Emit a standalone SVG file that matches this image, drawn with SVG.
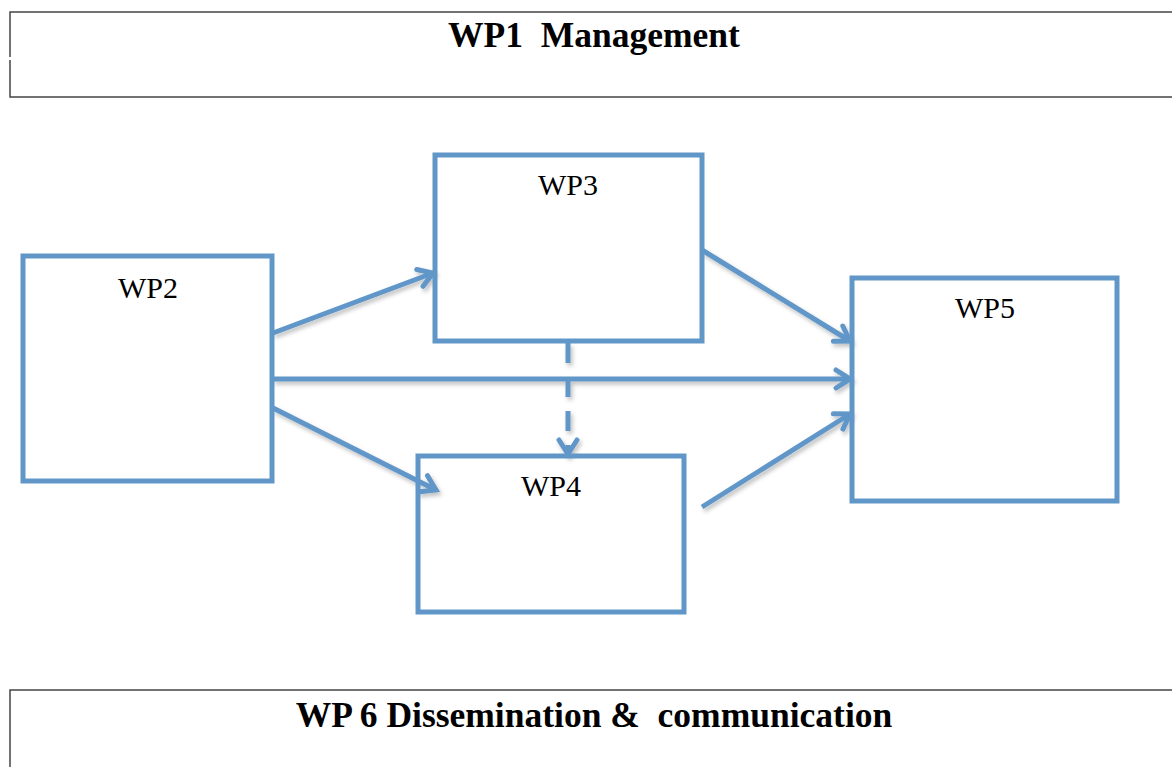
<svg xmlns="http://www.w3.org/2000/svg" width="1172" height="767" viewBox="0 0 1172 767">
<defs>
<style>
.band{fill:none;stroke:#444;stroke-width:1.5}
.title{font-family:"Liberation Serif",serif;font-weight:bold;font-size:35.5px;fill:#000}
.box{fill:none;stroke:#6096C8;stroke-width:5}
.lbl{font-family:"Liberation Serif",serif;font-size:30px;fill:#000}
.conn{fill:none;stroke:#6096C8;stroke-width:5}
</style>
<filter id="sh" filterUnits="userSpaceOnUse" x="0" y="0" width="1172" height="767">
<feDropShadow dx="2" dy="3" stdDeviation="2" flood-color="#000" flood-opacity="0.25"/>
</filter>
<marker id="ah" viewBox="-20 -12 24 24" markerWidth="24" markerHeight="24" refX="0" refY="0" orient="auto" markerUnits="userSpaceOnUse">
<path d="M-14,-9 L0,0 L-14,9" fill="none" stroke="#6096C8" stroke-width="5" stroke-linecap="round" stroke-linejoin="miter"/>
</marker>
</defs>
<rect width="1172" height="767" fill="#fff"/>
<g id="wp1">
<path class="band" d="M1172,12 H10 V57 M10,60 V97 H1172"/>
<text class="title" x="594" y="47" text-anchor="middle" xml:space="preserve">WP1  Management</text>
</g>
<g id="wp6">
<path class="band" d="M1172,690 H10 V767"/>
<text class="title" x="594" y="727" text-anchor="middle" xml:space="preserve">WP 6 Dissemination &amp;  communication</text>
</g>
<g id="connectors" filter="url(#sh)">
<line class="conn" x1="273" y1="333" x2="433" y2="273" marker-end="url(#ah)"/>
<line class="conn" x1="273" y1="379" x2="850" y2="379" marker-end="url(#ah)"/>
<line class="conn" x1="273" y1="408" x2="436" y2="490" marker-end="url(#ah)"/>
<line class="conn" x1="702" y1="250" x2="850" y2="341" marker-end="url(#ah)"/>
<line class="conn" x1="702" y1="507" x2="850" y2="414" marker-end="url(#ah)"/>
<line class="conn" x1="568" y1="343" x2="568" y2="454" stroke-dasharray="20 14" marker-end="url(#ah)"/>
</g>
<g id="wp2">
<rect class="box" x="23" y="256" width="249" height="225"/>
<text class="lbl" x="148" y="298" text-anchor="middle">WP2</text>
</g>
<g id="wp3">
<rect class="box" x="435" y="155" width="267" height="186"/>
<text class="lbl" x="568" y="195" text-anchor="middle">WP3</text>
</g>
<g id="wp4">
<rect class="box" x="418" y="456" width="266" height="156"/>
<text class="lbl" x="551" y="496" text-anchor="middle">WP4</text>
</g>
<g id="wp5">
<rect class="box" x="852" y="278" width="265" height="223"/>
<text class="lbl" x="985" y="318" text-anchor="middle">WP5</text>
</g>
</svg>
